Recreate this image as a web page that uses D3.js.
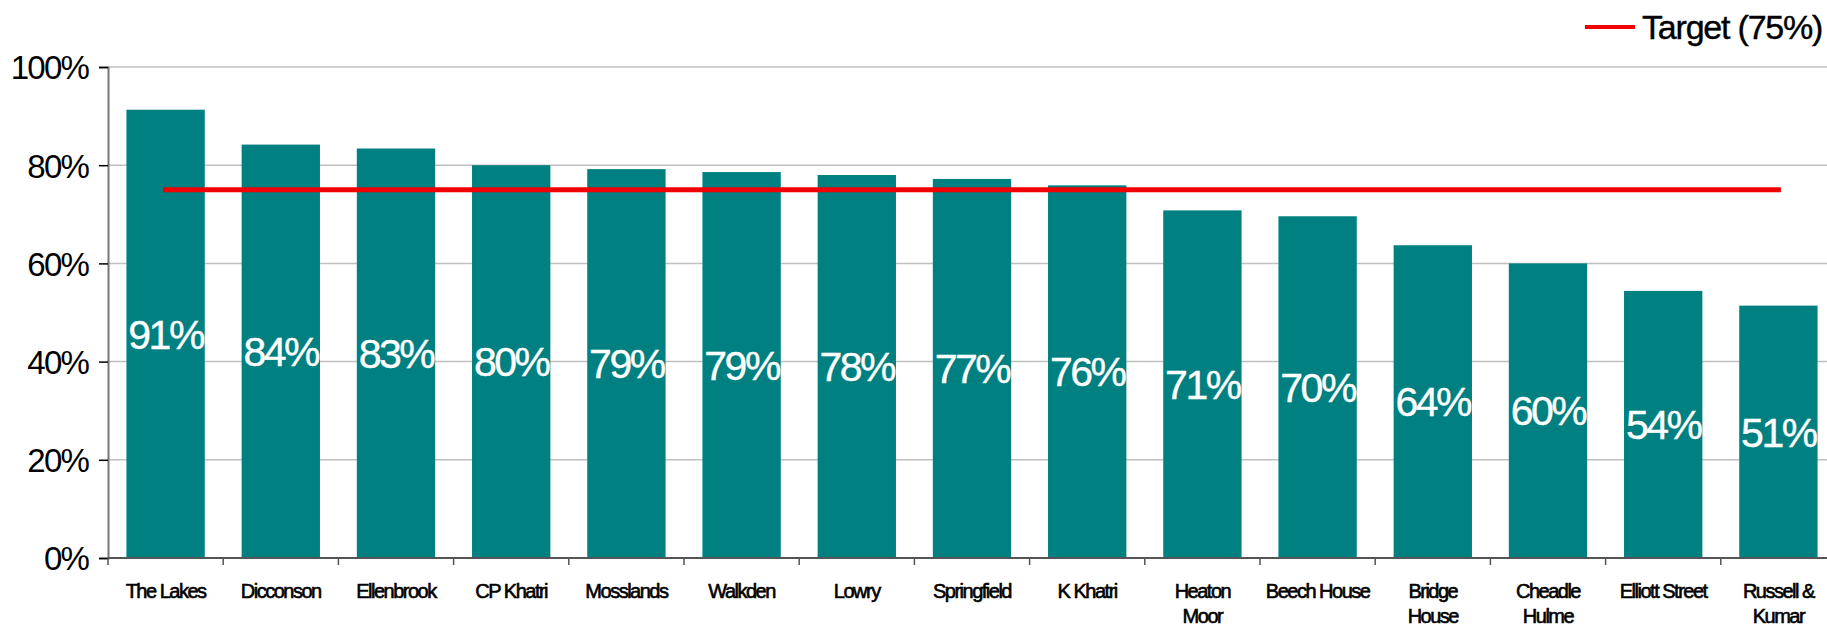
<!DOCTYPE html>
<html>
<head>
<meta charset="utf-8">
<script src="https://cdn.jsdelivr.net/npm/d3@7/dist/d3.min.js"></script>
<style>
  html, body { margin: 0; padding: 0; background: #fff; }
  svg { display: block; font-family: "Liberation Sans", Arial, sans-serif; }
</style>
</head>
<body>
<svg id="chart" width="1827" height="627"></svg>
<script>
// Practice names (line breaks mark wrapped axis labels)
const practices = [
  "The Lakes", "Dicconson", "Ellenbrook", "CP Khatri", "Mosslands",
  "Walkden", "Lowry", "Springfield", "K Khatri", "Heaton\nMoor",
  "Beech House", "Bridge\nHouse", "Cheadle\nHulme", "Elliott Street", "Russell &\nKumar"
];
// Achievement per practice (fraction)
const achievement = [
  0.913, 0.842, 0.834, 0.800, 0.792,
  0.786, 0.780, 0.772, 0.759, 0.708,
  0.696, 0.637, 0.600, 0.544, 0.514
];
// Target shown as a line across all practices
const target = 0.75;
const targetLabel = "Target (75%)";
const yTicks = [0, 0.2, 0.4, 0.6, 0.8, 1.0];

const svg = d3.select("#chart");
const plotLeft = 108, plotTop = 67, plotBottom = 558;
const band = 115.2;

const x = d3.scaleBand()
  .domain(practices)
  .range([plotLeft, plotLeft + band * practices.length])
  .paddingInner(0.32)
  .paddingOuter(0.16);

const y = d3.scaleLinear().domain([0, 1]).range([plotBottom, plotTop]);
const pct = d3.format(".0%");

// Gridlines
svg.append("g")
  .selectAll("line")
  .data(yTicks.filter(d => d > 0))
  .join("line")
  .attr("x1", plotLeft).attr("x2", 1827)
  .attr("y1", d => y(d)).attr("y2", d => y(d))
  .attr("stroke", "#c0c0c0").attr("stroke-width", 1.5);

// Bars
svg.append("g")
  .selectAll("rect")
  .data(practices)
  .join("rect")
  .attr("x", d => x(d))
  .attr("width", x.bandwidth())
  .attr("y", (d, i) => y(achievement[i]))
  .attr("height", (d, i) => y(0) - y(achievement[i]))
  .attr("fill", "#008080");

// Y axis
const yAxis = svg.append("g")
  .attr("transform", `translate(${plotLeft},0)`)
  .call(d3.axisLeft(y).tickValues(yTicks).tickFormat(pct).tickSize(9).tickPadding(11));
yAxis.select(".domain").attr("stroke", "#777").attr("stroke-width", 2);
yAxis.selectAll(".tick line").attr("stroke", "#000").attr("stroke-width", 1.5);
yAxis.selectAll(".tick text")
  .attr("font-size", 33).attr("letter-spacing", "-1.8px")
  .attr("fill", "#000").attr("font-family", "Liberation Sans, Arial, sans-serif")
  .attr("dy", "0.36em");

// X axis line and ticks between categories
const xg = svg.append("g");
xg.append("line")
  .attr("x1", plotLeft).attr("x2", 1827)
  .attr("y1", plotBottom).attr("y2", plotBottom)
  .attr("stroke", "#555").attr("stroke-width", 2);
const step = x.step();
const boundaries = d3.range(practices.length + 1).map(i => x.range()[0] + i * step);
xg.selectAll("line.tk")
  .data(boundaries)
  .join("line")
  .attr("class", "tk")
  .attr("x1", d => d).attr("x2", d => d)
  .attr("y1", plotBottom).attr("y2", plotBottom + 7)
  .attr("stroke", "#555").attr("stroke-width", 1.5);

// Category labels (possibly two lines)
const labels = xg.selectAll("text.cat")
  .data(practices)
  .join("text")
  .attr("class", "cat")
  .attr("x", d => x(d) + x.bandwidth() / 2)
  .attr("y", 598)
  .attr("text-anchor", "middle")
  .attr("font-size", 20)
  .attr("letter-spacing", "-1.5px")
  .attr("fill", "#000")
  .attr("stroke", "#000")
  .attr("stroke-width", 0.6);
labels.each(function (d) {
  const t = d3.select(this);
  d.split("\n").forEach((line, k) => {
    t.append("tspan")
      .attr("x", x(d) + x.bandwidth() / 2)
      .attr("dy", k === 0 ? 0 : 25)
      .text(line);
  });
});

// Value labels centred in each bar
svg.append("g")
  .selectAll("text")
  .data(practices)
  .join("text")
  .attr("x", d => x(d) + x.bandwidth() / 2)
  .attr("y", (d, i) => (y(achievement[i]) + y(0)) / 2)
  .attr("dy", "0.36em")
  .attr("text-anchor", "middle")
  .attr("font-size", 41)
  .attr("letter-spacing", "-2.5px")
  .attr("fill", "#fff")
  .attr("stroke", "#fff")
  .attr("stroke-width", 0.4)
  .text((d, i) => pct(achievement[i]));

// Target line
const targetLine = d3.line()
  .x(d => x(d) + x.bandwidth() / 2)
  .y(() => y(target));
svg.append("path")
  .datum(practices)
  .attr("d", targetLine)
  .attr("fill", "none")
  .attr("stroke", "#f00000")
  .attr("stroke-width", 5)
  .attr("stroke-linecap", "square");

// Legend
const legend = svg.append("g");
legend.append("line")
  .attr("x1", 1585).attr("x2", 1635)
  .attr("y1", 27).attr("y2", 27)
  .attr("stroke", "#f00000").attr("stroke-width", 4);
legend.append("text")
  .attr("x", 1642).attr("y", 39)
  .attr("font-size", 34)
  .attr("letter-spacing", "-1.2px")
  .attr("fill", "#000")
  .attr("stroke", "#000")
  .attr("stroke-width", 0.4)
  .text(targetLabel);
</script>
</body>
</html>
